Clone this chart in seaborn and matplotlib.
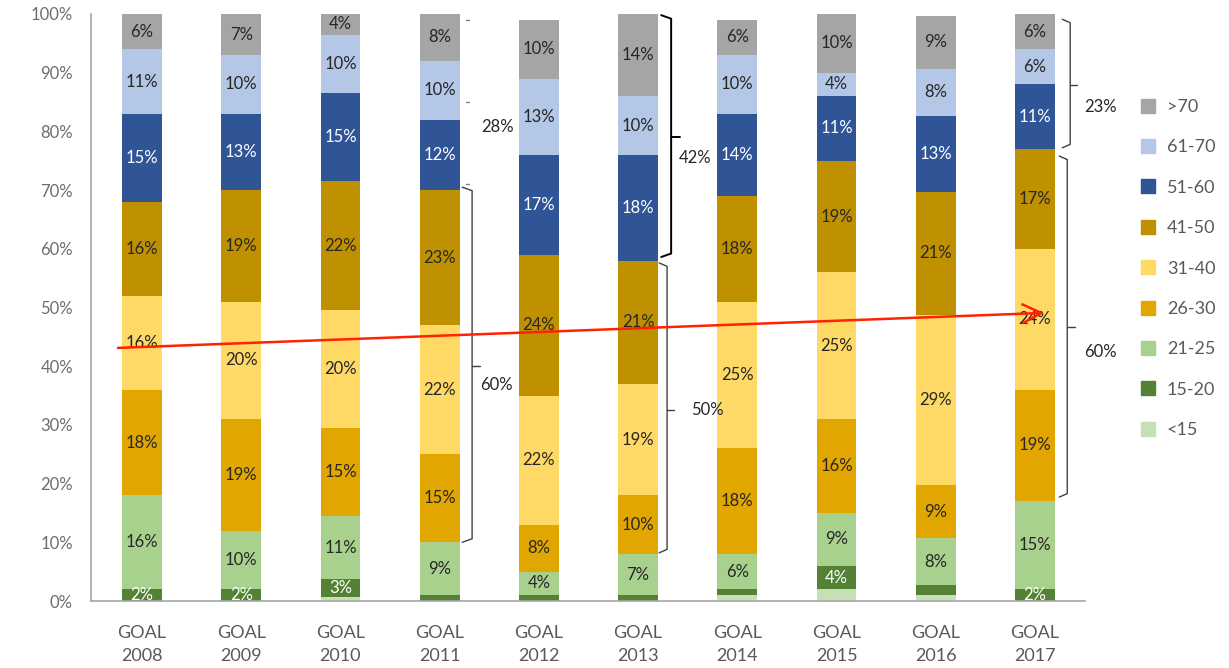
import numpy as np
import pandas as pd
import matplotlib
matplotlib.use("Agg")
import matplotlib.pyplot as plt
from matplotlib.lines import Line2D
import seaborn as sns

# ---- data ----
goals = ["GOAL\n2008", "GOAL\n2009", "GOAL\n2010", "GOAL\n2011", "GOAL\n2012",
         "GOAL\n2013", "GOAL\n2014", "GOAL\n2015", "GOAL\n2016", "GOAL\n2017"]
series_names = ["<15", "15-20", "21-25", "26-30", "31-40", "41-50", "51-60", "61-70", ">70"]
lt15   = [0, 0, 0.7, 0, 0, 0, 1, 2, 1, 0]
a15_20 = [2, 2, 3, 1, 1, 1, 1, 4, 1.7, 2]
a21_25 = [16, 10, 10.8, 9, 4, 7, 6, 9, 8, 15]
a26_30 = [18, 19, 15, 15, 8, 10, 18, 16, 9, 19]
a31_40 = [16, 20, 20, 22, 22, 19, 25, 25, 29, 24]
a41_50 = [16, 19, 22, 23, 24, 21, 18, 19, 21, 17]
a51_60 = [15, 13, 15, 12, 17, 18, 14, 11, 13, 11]
a61_70 = [11, 10, 10, 10, 13, 10, 10, 4, 8, 6]
gt70   = [6, 7, 3.5, 8, 10, 14, 6, 10, 9, 6]
series_values = [lt15, a15_20, a21_25, a26_30, a31_40, a41_50, a51_60, a61_70, gt70]
colors = ["#C5E0B4", "#548235", "#A9D18E", "#E2A600", "#FFD966",
          "#BF9000", "#2F5597", "#B4C7E7", "#A5A5A5"]
text_colors = ["#262626", "#FFFFFF", "#262626", "#262626", "#262626",
               "#262626", "#FFFFFF", "#262626", "#262626"]

bracket_labels = ["60%", "42%", "50%", "23%", "60%"]

sns.set_theme(style="white")
plt.rcParams["font.family"] = ["Lato", "DejaVu Sans"]

fig = plt.figure(figsize=(12.29, 6.68), dpi=100)
ax = fig.add_axes([91/1229, 67/668, (1085-91)/1229, (601-14)/668])

df = pd.DataFrame({"goal": goals})
bottom = np.zeros(len(goals))
for name, vals, col, tcol in zip(series_names, series_values, colors, text_colors):
    vals = np.array(vals, dtype=float)
    df["v"] = vals
    sns.barplot(data=df, x="goal", y="v", order=goals, color=col, saturation=1,
                width=0.4, errorbar=None, bottom=bottom, linewidth=0, ax=ax)
    labels = [f"{round(v)}%" if (v >= 1.9 and name != "<15") else "" for v in vals]
    ax.bar_label(ax.containers[-1], labels=labels, label_type="center",
                 color=tcol, fontsize=12)
    bottom = bottom + vals

ax.set_xlim(-0.514, 9.504)
ax.set_ylim(0, 100)
ax.set_xlabel("")
ax.set_ylabel("")
ax.set_yticks(np.arange(0, 101, 10))
ax.set_yticklabels([f"{v}%" for v in range(0, 101, 10)])
ax.tick_params(axis="y", length=0, pad=13, labelsize=12, labelcolor="#6E6E6E")
ax.tick_params(axis="x", length=0, pad=17, labelsize=13, labelcolor="#595959")
for t in ax.get_xticklabels():
    t.set_linespacing(1.6)
for s in ["top", "right"]:
    ax.spines[s].set_visible(False)
for s in ["left", "bottom"]:
    ax.spines[s].set_color("#A6A6A6")
    ax.spines[s].set_linewidth(1.2)

# red trend arrow
ax.annotate("", xy=(9.12, 49.1), xytext=(-0.27, 43.1),
            arrowprops=dict(arrowstyle="->,head_length=0.9,head_width=0.45",
                            color="#FF2200", lw=1.8, mutation_scale=15))


def bracket(x, ytop, ybot, ytick, hook, tick, color, lw):
    ax.plot([x - hook, x, x, x - hook], [ytop, ytop - 0.6, ybot + 0.6, ybot],
            color=color, lw=lw, clip_on=False, solid_capstyle="round")
    ax.plot([x, x + tick], [ytick, ytick], color=color, lw=lw, clip_on=False)


bracket(3.327, 70.5, 10.0, 40.0, 0.10, 0.08, "#404040", 1.0)
ax.text(3.57, 36.8, bracket_labels[0], fontsize=12, color="#262626", ha="center", va="center")

bracket(5.333, 99.8, 58.6, 79.0, 0.10, 0.09, "#000000", 1.4)
ax.text(5.575, 75.5, bracket_labels[1], fontsize=12, color="#262626", ha="center", va="center")

bracket(5.292, 57.6, 8.2, 32.5, 0.08, 0.07, "#404040", 1.0)
ax.text(5.70, 32.5, bracket_labels[2], fontsize=12, color="#262626", ha="center", va="center")

bracket(9.355, 99.1, 77.2, 87.9, 0.08, 0.07, "#404040", 1.0)
ax.text(9.657, 84.2, bracket_labels[3], fontsize=12, color="#262626", ha="center", va="center")

bracket(9.325, 75.8, 17.7, 46.7, 0.08, 0.08, "#404040", 1.0)
ax.text(9.657, 42.4, bracket_labels[4], fontsize=12, color="#262626", ha="center", va="center")

# faint marks and 28% label between 2011 and 2012
for yy in [99, 85, 71]:
    ax.plot([3.27, 3.30], [yy, yy], color="#808080", lw=1.0, clip_on=False)
ax.text(3.58, 80.7, "28%", fontsize=12, color="#262626", ha="center", va="center")

# legend
handles = [Line2D([], [], marker="s", ls="", color=c, markersize=10)
           for c in colors[::-1]]
ax.legend(handles, series_names[::-1], loc="upper left",
          bbox_to_anchor=(1139/1229, (668-99)/668), bbox_transform=fig.transFigure,
          frameon=False, fontsize=13, labelspacing=1.35, handletextpad=0.55,
          borderpad=0, borderaxespad=0, handlelength=1.0, labelcolor="#595959")

fig.savefig("out.png", dpi=100)
